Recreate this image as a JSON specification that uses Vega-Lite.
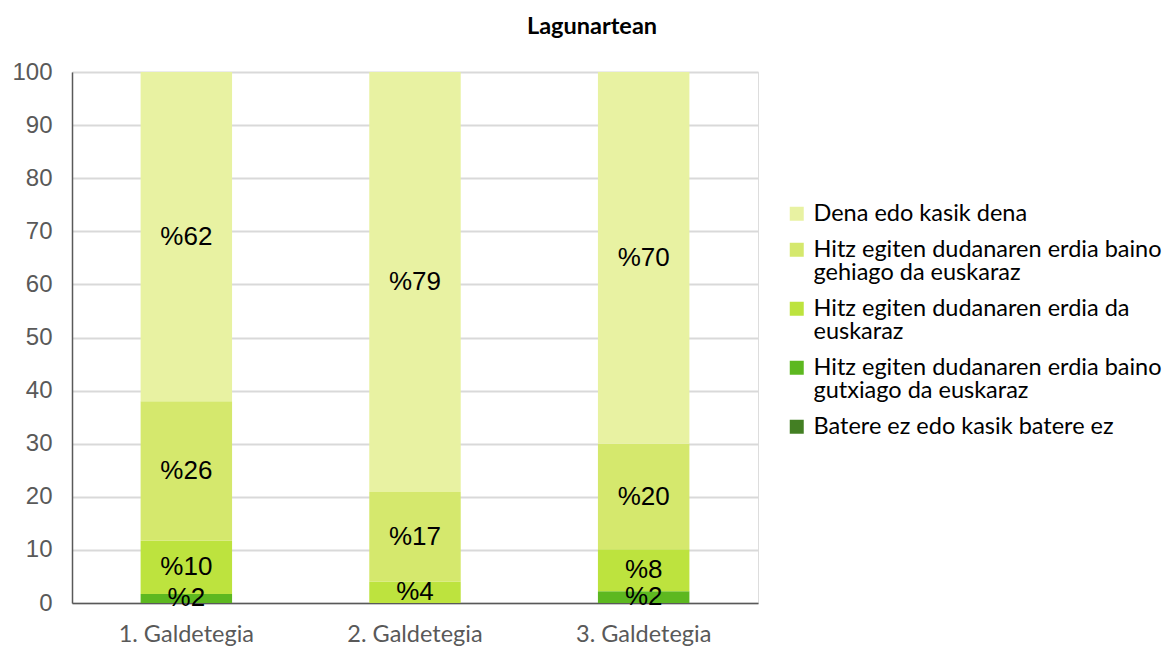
{
  "$schema": "https://vega.github.io/schema/vega-lite/v6.json",
  "autosize": {"type": "none"},
  "width": 686,
  "height": 531,
  "padding": {"left": 72, "top": 72, "right": 416, "bottom": 43},
  "background": "white",
  "config": {"style": {"guide-label": {"lineHeight": 23.5}}},
  "title": {"text": "Lagunartean", "font": "Lato", "fontSize": 23.5, "fontWeight": "bold", "color": "#000000", "anchor": "middle", "frame": "group", "dx": 177, "offset": 22},
  "data": {"values": [
    {"q": "1. Galdetegia", "c": "Batere ez edo kasik batere ez", "k": 1, "v": 0, "label": ""},
    {"q": "1. Galdetegia", "c": "Hitz egiten dudanaren erdia baino gutxiago da euskaraz", "k": 2, "v": 1.7, "label": "%2"},
    {"q": "1. Galdetegia", "c": "Hitz egiten dudanaren erdia da euskaraz", "k": 3, "v": 10.0, "label": "%10"},
    {"q": "1. Galdetegia", "c": "Hitz egiten dudanaren erdia baino gehiago da euskaraz", "k": 4, "v": 26.3, "label": "%26"},
    {"q": "1. Galdetegia", "c": "Dena edo kasik dena", "k": 5, "v": 62.0, "label": "%62"},
    {"q": "2. Galdetegia", "c": "Batere ez edo kasik batere ez", "k": 1, "v": 0, "label": ""},
    {"q": "2. Galdetegia", "c": "Hitz egiten dudanaren erdia baino gutxiago da euskaraz", "k": 2, "v": 0, "label": ""},
    {"q": "2. Galdetegia", "c": "Hitz egiten dudanaren erdia da euskaraz", "k": 3, "v": 4.0, "label": "%4"},
    {"q": "2. Galdetegia", "c": "Hitz egiten dudanaren erdia baino gehiago da euskaraz", "k": 4, "v": 16.9, "label": "%17"},
    {"q": "2. Galdetegia", "c": "Dena edo kasik dena", "k": 5, "v": 79.1, "label": "%79"},
    {"q": "3. Galdetegia", "c": "Batere ez edo kasik batere ez", "k": 1, "v": 0, "label": ""},
    {"q": "3. Galdetegia", "c": "Hitz egiten dudanaren erdia baino gutxiago da euskaraz", "k": 2, "v": 2.2, "label": "%2"},
    {"q": "3. Galdetegia", "c": "Hitz egiten dudanaren erdia da euskaraz", "k": 3, "v": 7.9, "label": "%8"},
    {"q": "3. Galdetegia", "c": "Hitz egiten dudanaren erdia baino gehiago da euskaraz", "k": 4, "v": 19.9, "label": "%20"},
    {"q": "3. Galdetegia", "c": "Dena edo kasik dena", "k": 5, "v": 70.0, "label": "%70"}
  ]},
  "transform": [
    {"stack": "v", "groupby": ["q"], "sort": [{"field": "k", "order": "ascending"}], "as": ["v0", "v1"]}
  ],
  "encoding": {
    "x": {"field": "q", "type": "nominal", "sort": null,
      "scale": {"paddingInner": 0.6, "paddingOuter": 0.3},
      "axis": {"title": null, "labelAngle": 0, "labelFont": "Lato", "labelFontSize": 23.5, "labelColor": "#595959", "labelPadding": 19, "ticks": false, "domainColor": "#595959", "domainWidth": 1.5}
    }
  },
  "layer": [
    {
      "mark": {"type": "bar"},
      "encoding": {
        "y": {"field": "v0", "type": "quantitative",
          "scale": {"domain": [0, 100], "nice": false},
          "axis": {"title": null, "values": [0,10,20,30,40,50,60,70,80,90,100], "labelFont": "Liberation Sans", "labelFontSize": 24, "labelColor": "#595959", "labelPadding": 20, "ticks": false, "gridColor": "#d9d9d9", "gridWidth": 2, "domainColor": "#595959", "domainWidth": 1.5}
        },
        "y2": {"field": "v1"},
        "color": {"field": "c", "type": "nominal",
          "scale": {
            "domain": ["Dena edo kasik dena", "Hitz egiten dudanaren erdia baino gehiago da euskaraz", "Hitz egiten dudanaren erdia da euskaraz", "Hitz egiten dudanaren erdia baino gutxiago da euskaraz", "Batere ez edo kasik batere ez"],
            "range": ["#e8f2a2", "#d5e86d", "#bde33e", "#5db820", "#437f23"]
          },
          "legend": {
            "title": null, "orient": "none", "legendX": 713, "legendY": 130,
            "symbolType": "square", "symbolSize": 196, "symbolStrokeWidth": 0, "symbolOpacity": 1,
            "labelFont": "Lato", "labelFontSize": 23.5, "labelColor": "#000000", "labelLimit": 500, "labelOffset": 5,
            "rowPadding": 11,
            "labelExpr": "datum.label == 'Hitz egiten dudanaren erdia baino gehiago da euskaraz' ? ['Hitz egiten dudanaren erdia baino', 'gehiago da euskaraz'] : datum.label == 'Hitz egiten dudanaren erdia da euskaraz' ? ['Hitz egiten dudanaren erdia da', 'euskaraz'] : datum.label == 'Hitz egiten dudanaren erdia baino gutxiago da euskaraz' ? ['Hitz egiten dudanaren erdia baino', 'gutxiago da euskaraz'] : datum.label"
          }
        }
      }
    },
    {
      "transform": [
        {"filter": "datum.v > 0"},
        {"fold": ["v0", "v1"], "as": ["edge", "pos"]}
      ],
      "mark": {"type": "text", "font": "Liberation Sans", "fontSize": 26, "color": "#000000", "baseline": "middle"},
      "encoding": {
        "y": {"aggregate": "mean", "field": "pos", "type": "quantitative"},
        "detail": {"field": "c"},
        "text": {"field": "label", "type": "nominal"}
      }
    }
  ]
}
